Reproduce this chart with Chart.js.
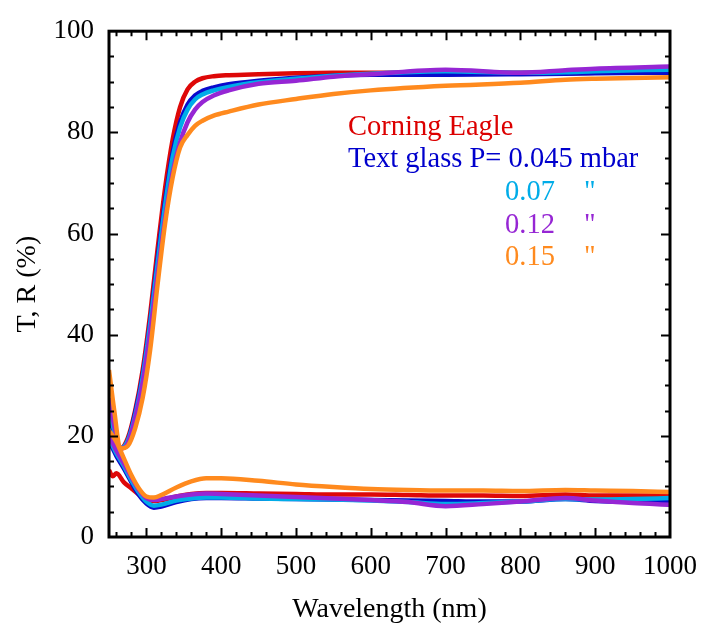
<!DOCTYPE html>
<html>
<head>
<meta charset="utf-8">
<script src="https://cdn.jsdelivr.net/npm/chart.js@4.4.1/dist/chart.umd.min.js"></script>
<style>
  html, body { margin: 0; padding: 0; background: #fff; }
  #wrap { width: 701px; height: 626px; }
</style>
</head>
<body>
<div id="wrap"><canvas id="myChart" width="701" height="626"></canvas></div>
<script>
// wavelengths (nm) for the transmission curves
const tWavelength = [250, 257, 265, 275, 285, 295, 305, 315, 325, 335, 345, 355, 365, 375, 390, 410, 450, 500, 550, 600, 700, 800, 860, 900, 1000];
const tCorning = [20, 18.5, 17.5, 19.5, 25, 33, 44, 57, 69, 78.5, 85, 88.5, 90, 90.7, 91.1, 91.3, 91.5, 91.7, 91.8, 91.8, 91.8, 91.8, 91.7, 91.8, 91.9];
const t045 = [24, 20.5, 17.5, 19, 24.5, 32, 42.5, 55, 66.5, 76, 82, 85.5, 87.3, 88.2, 88.9, 89.5, 90.2, 90.8, 91.2, 91.4, 91.4, 91.5, 91.6, 91.7, 91.8];
const t07 = [25.5, 21, 17.5, 19, 24, 31.5, 42, 54, 65.5, 75, 81, 84.5, 86.5, 87.5, 88.3, 89, 89.9, 90.6, 91.2, 91.6, 92.1, 91.8, 91.9, 92.1, 92.4];
const t12 = [27.5, 22, 17.5, 18.5, 23.5, 30.5, 40.5, 52, 63, 72, 78, 82, 84.5, 86, 87.3, 88.3, 89.6, 90.2, 91, 91.5, 92.4, 91.8, 92.3, 92.6, 93];
const t15 = [33, 25, 17.5, 18, 21.5, 27.5, 37, 50, 62, 71, 77, 79.5, 81.3, 82.3, 83.3, 84.1, 85.5, 86.6, 87.6, 88.3, 89.2, 89.8, 90.4, 90.6, 90.9];

// wavelengths (nm) for the reflectance curves
const rWavelength = [250, 255, 260, 270, 280, 290, 300, 310, 320, 340, 360, 380, 400, 450, 500, 550, 600, 650, 700, 750, 800, 860, 900, 950, 1000];
const rCorning = [13.2, 12, 12.6, 10.8, 9.6, 8.4, 7.3, 7.1, 7.3, 8, 8.5, 8.7, 8.7, 8.6, 8.5, 8.4, 8.4, 8.3, 8.2, 8.2, 8.1, 8.4, 8.2, 8.2, 8.2];
const r045 = [19, 17.5, 16, 13.5, 10.8, 8.3, 6.6, 5.8, 6, 6.9, 7.5, 7.7, 7.7, 7.6, 7.5, 7.4, 7.3, 7.2, 7.1, 7, 7, 7.5, 7.1, 7, 7];
const r07 = [19.5, 18, 16.5, 14, 11.2, 8.8, 7, 6.2, 6.4, 7.2, 7.6, 7.8, 7.8, 7.6, 7.5, 7.4, 7.2, 6.9, 6.5, 6.7, 7, 7.5, 7.4, 7.5, 7.7];
const r12 = [19.7, 18.5, 17, 14.5, 11.8, 9.3, 7.7, 7.3, 7.5, 8, 8.4, 8.6, 8.5, 8.2, 7.9, 7.6, 7.3, 6.9, 6.1, 6.5, 7, 7.7, 7.2, 6.7, 6.4];
const r15 = [21, 20, 18.8, 15.5, 12.2, 9.6, 8, 7.8, 8.3, 9.8, 11, 11.6, 11.6, 11.1, 10.4, 9.9, 9.5, 9.3, 9.2, 9.2, 9.1, 9.3, 9.2, 9.1, 8.9];

const xTicks = [300, 400, 500, 600, 700, 800, 900, 1000];
const yTicks = [0, 20, 40, 60, 80, 100];

const cRed = 'rgb(222,8,8)';
const cBlue = 'rgb(10,10,205)';
const cCyan = 'rgb(0,172,232)';
const cPurple = 'rgb(150,38,212)';
const cOrange = 'rgb(255,138,30)';

function pts(xs, ys) {
  return xs.map((x, i) => ({ x: x, y: ys[i] }));
}

function line(xs, ys, color) {
  return {
    data: pts(xs, ys),
    borderColor: color,
    backgroundColor: color,
    borderWidth: 4.5,
    pointRadius: 0,
    cubicInterpolationMode: 'monotone',
    fill: false
  };
}

const serif = '"Liberation Serif", "Times New Roman", Times, serif';

// frame, inward ticks and the coloured key
const framePlugin = {
  id: 'frame',
  afterDraw(chart) {
    const ctx = chart.ctx;
    const a = chart.chartArea;
    const xs = chart.scales.x;
    const ys = chart.scales.y;
    ctx.save();
    ctx.strokeStyle = '#000';
    ctx.lineWidth = 2;
    for (let v = 260; v < 1000; v += 20) {
      const major = v % 100 === 0;
      const len = major ? 9 : 5;
      const px = Math.round(xs.getPixelForValue(v)) + 0.5;
      ctx.beginPath();
      ctx.moveTo(px, a.bottom); ctx.lineTo(px, a.bottom - len);
      ctx.moveTo(px, a.top); ctx.lineTo(px, a.top + len);
      ctx.stroke();
    }
    for (let v = 5; v < 100; v += 5) {
      const major = v % 20 === 0;
      const len = major ? 9 : 5;
      const py = Math.round(ys.getPixelForValue(v)) + 0.5;
      ctx.beginPath();
      ctx.moveTo(a.left, py); ctx.lineTo(a.left + len, py);
      ctx.moveTo(a.right, py); ctx.lineTo(a.right - len, py);
      ctx.stroke();
    }
    ctx.lineWidth = 3;
    ctx.strokeRect(a.left, a.top, a.right - a.left, a.bottom - a.top);

    ctx.font = '28.5px ' + serif;
    ctx.textBaseline = 'alphabetic';
    ctx.textAlign = 'left';
    ctx.fillStyle = 'rgb(220,0,0)';
    ctx.fillText('Corning Eagle', 348, 135);
    ctx.fillStyle = 'rgb(0,0,205)';
    ctx.fillText('Text glass P= 0.045 mbar', 348, 167);
    const rows = [['0.07', cCyan, 200], ['0.12', cPurple, 233], ['0.15', cOrange, 265]];
    rows.forEach(r => {
      ctx.fillStyle = r[1];
      ctx.fillText(r[0], 505, r[2]);
      ctx.fillText('"', 584, r[2]);
    });
    ctx.restore();
  }
};

const ctx = document.getElementById('myChart').getContext('2d');
const myChart = new Chart(ctx, {
  type: 'line',
  data: {
    datasets: [
      line(tWavelength, t15, cOrange),
      line(rWavelength, r15, cOrange),
      line(tWavelength, t12, cPurple),
      line(rWavelength, r12, cPurple),
      line(tWavelength, t07, cCyan),
      line(rWavelength, r07, cCyan),
      line(tWavelength, t045, cBlue),
      line(rWavelength, r045, cBlue),
      line(tWavelength, tCorning, cRed),
      line(rWavelength, rCorning, cRed)
    ]
  },
  options: {
    responsive: false,
    animation: false,
    layout: { padding: { left: 0, top: 29, right: 31, bottom: 0 } },
    plugins: {
      legend: { display: false },
      tooltip: { enabled: false }
    },
    scales: {
      x: {
        type: 'linear',
        min: 250,
        max: 1000,
        grid: { display: false, drawTicks: false },
        border: { display: false },
        afterFit: s => { s.height = 89; s.paddingRight = 0; s.paddingLeft = 0; },
        afterBuildTicks: s => { s.ticks = xTicks.map(v => ({ value: v })); },
        ticks: {
          autoSkip: false,
          maxRotation: 0,
          padding: 14,
          color: '#000',
          font: { family: serif, size: 27 },
          callback: v => String(v)
        },
        title: {
          display: true,
          text: 'Wavelength (nm)',
          color: '#000',
          padding: 0,
          font: { family: serif, size: 28, lineHeight: 1.2 }
        }
      },
      y: {
        min: 0,
        max: 100,
        grid: { display: false, drawTicks: false },
        border: { display: false },
        afterFit: s => { s.width = 109; },
        afterBuildTicks: s => { s.ticks = yTicks.map(v => ({ value: v })); },
        ticks: {
          autoSkip: false,
          padding: 15,
          color: '#000',
          font: { family: serif, size: 27 }
        },
        title: {
          display: true,
          text: 'T, R (%)',
          color: '#000',
          padding: { top: 11, bottom: 0 },
          font: { family: serif, size: 28, lineHeight: 1.2 }
        }
      }
    }
  },
  plugins: [framePlugin]
});
</script>
</body>
</html>
